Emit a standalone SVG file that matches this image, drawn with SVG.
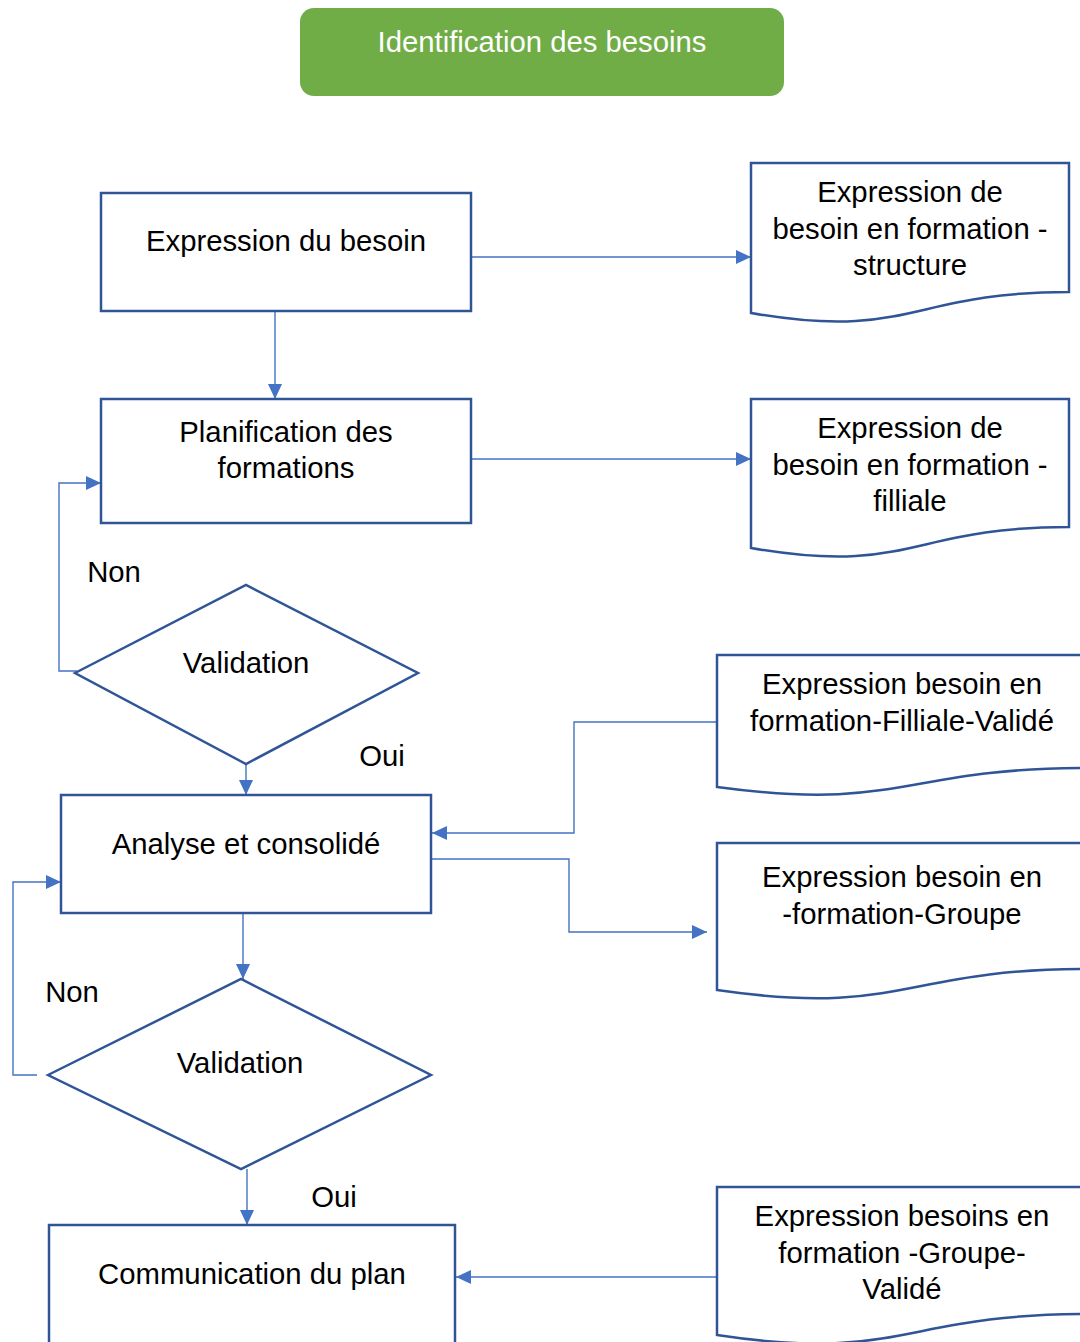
<svg xmlns="http://www.w3.org/2000/svg" width="1080" height="1342" viewBox="0 0 1080 1342">
  <defs>
    <marker id="arrow" markerUnits="userSpaceOnUse" markerWidth="15" markerHeight="14" refX="15" refY="7" orient="auto">
      <path d="M0,0 L15,7 L0,14 Z" fill="#4472C4"/>
    </marker>
    <style>
      .shape { fill: #FFFFFF; stroke: #2F5597; stroke-width: 2.5; }
      .conn { fill: none; stroke: #4472C4; stroke-width: 1.4; }
      .arr { marker-end: url(#arrow); }
      text { font-family: "Liberation Sans", Arial, sans-serif; font-size: 29.3px; fill: #000000; text-anchor: middle; }
      .title { fill: #FFFFFF; }
    </style>
  </defs>
  <rect width="1080" height="1342" fill="#FFFFFF"/>

  <!-- connectors -->
  <g id="connectors">
    <path class="conn arr" d="M471,257 H751"/>
    <path class="conn arr" d="M275,311 V399"/>
    <path class="conn arr" d="M471,459 H751"/>
    <path class="conn arr" d="M77,671 H59 V483 H101"/>
    <path class="conn arr" d="M246,764 V795"/>
    <path class="conn arr" d="M717,722 H574 V833 H432"/>
    <path class="conn arr" d="M431,859 H569 V932 H707"/>
    <path class="conn arr" d="M243,913 V979"/>
    <path class="conn arr" d="M37,1075 H13 V882 H61"/>
    <path class="conn arr" d="M247,1169 V1225"/>
    <path class="conn arr" d="M717,1277 H456"/>
  </g>

  <!-- start -->
  <g id="n-identification">
    <rect x="300" y="8" width="484" height="88" rx="14" ry="14" fill="#70AD47"/>
    <text class="title" x="542" y="52">Identification des besoins</text>
  </g>

  <!-- process steps -->
  <g id="n-expression">
    <rect class="shape" x="101" y="193" width="370" height="118"/>
    <text x="286" y="251">Expression du besoin</text>
  </g>
  <g id="n-planification">
    <rect class="shape" x="101" y="399" width="370" height="124"/>
    <text x="286" y="442">Planification des</text>
    <text x="286" y="478">formations</text>
  </g>
  <g id="n-analyse">
    <rect class="shape" x="61" y="795" width="370" height="118"/>
    <text x="246" y="854">Analyse et consolidé</text>
  </g>
  <g id="n-communication">
    <rect class="shape" x="49" y="1225" width="406" height="140"/>
    <text x="252" y="1284">Communication du plan</text>
  </g>

  <!-- decisions -->
  <g id="n-validation1">
    <path class="shape" d="M75,673 L246,585 L418,673 L246,764 Z"/>
    <text x="246" y="673">Validation</text>
  </g>
  <g id="n-validation2">
    <path class="shape" d="M48,1075 L241,979 L431,1075 L241,1169 Z"/>
    <text x="240" y="1073">Validation</text>
  </g>

  <!-- branch labels -->
  <g id="labels">
    <text x="114" y="582">Non</text>
    <text x="382" y="766">Oui</text>
    <text x="72" y="1002">Non</text>
    <text x="334" y="1207">Oui</text>
  </g>

  <!-- documents -->
  <g id="d-structure">
    <path class="shape" d="M751,163 H1069 V292 C910,292 910,341 751,313 Z"/>
    <text x="910" y="202">Expression de</text>
    <text x="910" y="239">besoin en formation -</text>
    <text x="910" y="275">structure</text>
  </g>
  <g id="d-filliale">
    <path class="shape" d="M751,399 H1069 V527 C910,527 910,576 751,548 Z"/>
    <text x="910" y="438">Expression de</text>
    <text x="910" y="475">besoin en formation -</text>
    <text x="910" y="511">filliale</text>
  </g>
  <g id="d-filliale-valide">
    <path class="shape" d="M717,655 H1087 V768 C902,768 902,812 717,787 Z"/>
    <text x="902" y="694">Expression besoin en</text>
    <text x="902" y="731">formation-Filliale-Validé</text>
  </g>
  <g id="d-groupe">
    <path class="shape" d="M717,843 H1087 V969 C902,969 902,1017 717,990 Z"/>
    <text x="902" y="887">Expression besoin en</text>
    <text x="902" y="924">-formation-Groupe</text>
  </g>
  <g id="d-groupe-valide">
    <path class="shape" d="M717,1187 H1087 V1314 C902,1314 902,1363 717,1335 Z"/>
    <text x="902" y="1226">Expression besoins en</text>
    <text x="902" y="1263">formation -Groupe-</text>
    <text x="902" y="1299">Validé</text>
  </g>
</svg>
